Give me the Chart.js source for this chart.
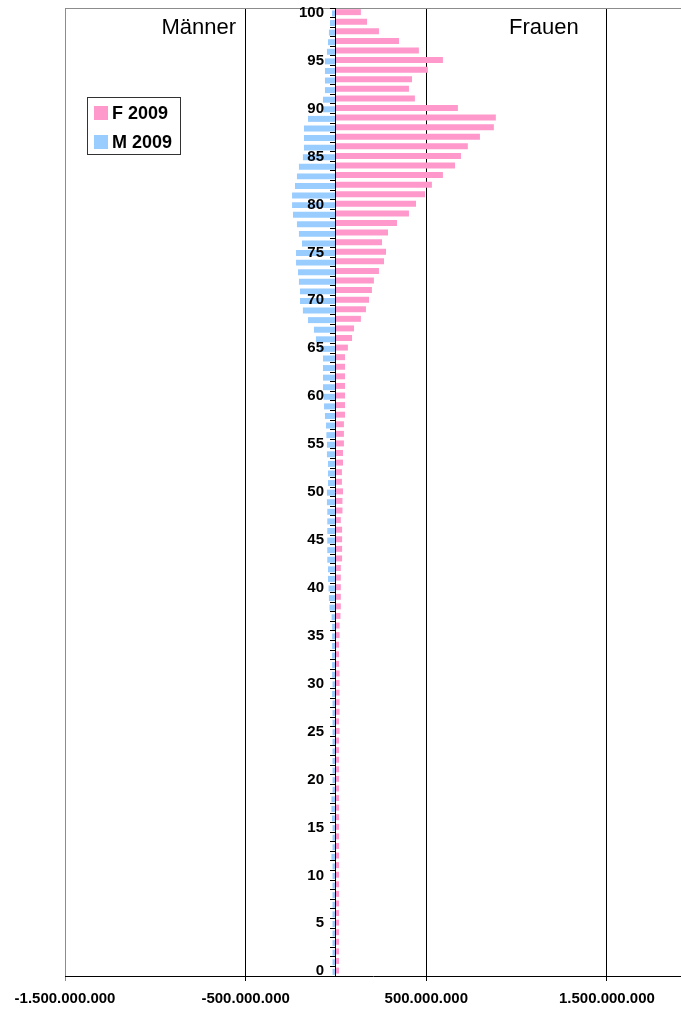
<!DOCTYPE html>
<html>
<head>
<meta charset="utf-8">
<title>Bevölkerung 2009</title>
<script src="https://cdn.jsdelivr.net/npm/chart.js@4.4.1/dist/chart.umd.min.js"></script>
<style>
  html, body { margin: 0; padding: 0; background: #ffffff; }
  #wrap { position: relative; width: 681px; height: 1010px; }
</style>
</head>
<body>
<div id="wrap"><canvas id="pyramid" width="681" height="1010"></canvas></div>
<script>
// Age classes (bottom to top of the pyramid)
const ages = [
  0, 1, 2, 3, 4, 5, 6, 7, 8, 9,
  10, 11, 12, 13, 14, 15, 16, 17, 18, 19,
  20, 21, 22, 23, 24, 25, 26, 27, 28, 29,
  30, 31, 32, 33, 34, 35, 36, 37, 38, 39,
  40, 41, 42, 43, 44, 45, 46, 47, 48, 49,
  50, 51, 52, 53, 54, 55, 56, 57, 58, 59,
  60, 61, 62, 63, 64, 65, 66, 67, 68, 69,
  70, 71, 72, 73, 74, 75, 76, 77, 78, 79,
  80, 81, 82, 83, 84, 85, 86, 87, 88, 89,
  90, 91, 92, 93, 94, 95, 96, 97, 98, 99,
  100
];

// Frauen 2009, one value per age class
const female2009 = [
  17000000, 17000000, 17000000, 17000000, 17000000, 17000000, 17000000, 17000000, 17000000, 17000000,
  17000000, 17000000, 17000000, 17000000, 17000000, 17000000, 17000000, 17000000, 17000000, 17000000,
  17000000, 17000000, 17000000, 17000000, 17000000, 20000000, 17000000, 20000000, 20000000, 20000000,
  20000000, 20000000, 17000000, 17000000, 17000000, 20000000, 20000000, 25000000, 27000000, 27000000,
  27000000, 27000000, 27000000, 34000000, 34000000, 34000000, 34000000, 27000000, 36000000, 36000000,
  39000000, 33000000, 33000000, 39000000, 39000000, 44000000, 44000000, 44000000, 50000000, 50000000,
  50000000, 50000000, 50000000, 50000000, 50000000, 66000000, 89000000, 100000000, 138000000, 166000000,
  183000000, 199000000, 210000000, 238000000, 266000000, 277000000, 255000000, 288000000, 338000000, 404000000,
  443000000, 493000000, 531000000, 592000000, 659000000, 692000000, 730000000, 797000000, 874000000, 885000000,
  675000000, 437000000, 404000000, 421000000, 509000000, 592000000, 459000000, 349000000, 238000000, 172000000,
  138000000
];

// Männer 2009, one value per age class (drawn to the left)
const male2009 = [
  19000000, 19000000, 19000000, 19000000, 19000000, 19000000, 19000000, 19000000, 19000000, 19000000,
  19000000, 19000000, 25000000, 19000000, 19000000, 19000000, 22000000, 25000000, 25000000, 19000000,
  19000000, 19000000, 19000000, 19000000, 19000000, 19000000, 19000000, 19000000, 19000000, 21000000,
  19000000, 21000000, 21000000, 21000000, 21000000, 21000000, 21000000, 24000000, 36000000, 39000000,
  41000000, 44000000, 44000000, 48000000, 48000000, 48000000, 48000000, 48000000, 48000000, 50000000,
  50000000, 44000000, 44000000, 44000000, 50000000, 50000000, 53000000, 55000000, 61000000, 66000000,
  69000000, 72000000, 72000000, 72000000, 72000000, 89000000, 111000000, 122000000, 155000000, 183000000,
  199000000, 199000000, 205000000, 210000000, 221000000, 221000000, 188000000, 205000000, 216000000, 238000000,
  243000000, 243000000, 227000000, 216000000, 205000000, 183000000, 177000000, 177000000, 177000000, 155000000,
  72000000, 72000000, 61000000, 61000000, 61000000, 61000000, 50000000, 44000000, 39000000, 33000000,
  22000000
];

const seriesLabels = ['F 2009', 'M 2009'];
const sideTitles = ['Männer', 'Frauen'];
const xTickValues = [-1500000000, -500000000, 500000000, 1500000000];

const FONT = "'Liberation Sans', Arial, Helvetica, sans-serif";
const PINK = '#FF99CC';
const BLUE = '#99CCFF';
const AGE_LABEL_GAP = 12; // distance between age labels and the centre axis

// German thousands separator: 1.500.000.000
function formatDe(v) {
  const s = Math.abs(Math.round(v)).toString().replace(/\B(?=(\d{3})+(?!\d))/g, '.');
  return (v < 0 ? '-' : '') + s;
}

// Grey frame line on top of the plot area
const framePlugin = {
  id: 'frame',
  beforeDatasetsDraw(chart) {
    const { ctx, chartArea: a } = chart;
    ctx.save();
    ctx.strokeStyle = '#8c8c8c';
    ctx.lineWidth = 1;
    ctx.beginPath();
    ctx.moveTo(a.left, Math.round(a.top) + 0.5);
    ctx.lineTo(a.right, Math.round(a.top) + 0.5);
    ctx.stroke();
    ctx.restore();
  }
};

// Move the age labels of the centred axis to the left of its tick marks
const ageLabelShift = {
  id: 'ageLabelShift',
  beforeDraw(chart) {
    const y = chart.scales.y;
    const items = y.getLabelItems(chart.chartArea);
    if (items._shifted) return;
    items.forEach(it => {
      it.options.translation[0] -= AGE_LABEL_GAP;
      it.options.textAlign = 'right';
    });
    items._shifted = true;
  }
};

// "Männer" / "Frauen" headings
const sideTitlePlugin = {
  id: 'sideTitles',
  afterDraw(chart) {
    const { ctx } = chart;
    ctx.save();
    ctx.fillStyle = '#000';
    ctx.font = '22px ' + FONT;
    ctx.textBaseline = 'middle';
    ctx.textAlign = 'right';
    ctx.fillText(sideTitles[0], 236, 28);
    ctx.textAlign = 'left';
    ctx.fillText(sideTitles[1], 509, 28);
    ctx.restore();
  }
};

// Boxed legend inside the plot area
const legendBoxPlugin = {
  id: 'legendBox',
  afterDraw(chart) {
    const { ctx } = chart;
    const ds = chart.data.datasets;
    ctx.save();
    ctx.fillStyle = '#ffffff';
    ctx.fillRect(88, 98, 92, 56);
    ctx.strokeStyle = '#333333';
    ctx.lineWidth = 1;
    ctx.strokeRect(87.5, 97.5, 93, 57);
    ctx.font = 'bold 18px ' + FONT;
    ctx.textBaseline = 'middle';
    ctx.textAlign = 'left';
    ds.forEach((d, i) => {
      const cy = 113 + i * 29;
      ctx.fillStyle = d.backgroundColor;
      ctx.fillRect(94, cy - 7, 14, 14);
      ctx.fillStyle = '#000';
      ctx.fillText(d.label, 112, cy + 1);
    });
    ctx.restore();
  }
};

new Chart(document.getElementById('pyramid'), {
  type: 'bar',
  data: {
    labels: ages,
    datasets: [
      { label: seriesLabels[0], data: female2009, backgroundColor: PINK },
      { label: seriesLabels[1], data: male2009.map(v => -v), backgroundColor: BLUE }
    ]
  },
  options: {
    indexAxis: 'y',
    responsive: false,
    animation: false,
    devicePixelRatio: 1,
    layout: { padding: { top: 8, left: 65, right: 0, bottom: 0 } },
    datasets: {
      bar: { categoryPercentage: 0.271, barPercentage: 4.6, borderWidth: 0 }
    },
    plugins: {
      legend: { display: false },
      tooltip: { enabled: false }
    },
    scales: {
      x: {
        type: 'linear',
        min: -1500000000,
        max: 1910000000,
        afterBuildTicks(scale) {
          scale.ticks = xTickValues.map(v => ({ value: v }));
        },
        afterFit(scale) { scale.height = 34; },
        grid: {
          color: c => (c.tick && c.tick.value === xTickValues[0]) ? '#8c8c8c' : '#000000',
          lineWidth: 1,
          tickLength: 5,
          drawTicks: true
        },
        border: { color: '#000000', width: 1 },
        ticks: {
          autoSkip: false,
          maxRotation: 0,
          padding: 9,
          color: '#000000',
          font: { family: FONT, size: 15, weight: 'bold' },
          callback: v => formatDe(v)
        }
      },
      y: {
        type: 'category',
        reverse: true,
        position: { x: 0 },
        afterFit(scale) {
          scale.paddingTop = 0;
          scale.paddingBottom = 0;
        },
        grid: {
          drawOnChartArea: false,
          drawTicks: true,
          tickLength: 5,
          color: '#000000',
          offset: true,
          z: 1
        },
        border: { color: '#000000', width: 1, z: 1 },
        ticks: {
          autoSkip: false,
          padding: 7,
          z: 1,
          color: '#000000',
          font: { family: FONT, size: 15, weight: 'bold' },
          callback: v => (ages[v] % 5 === 0 ? String(ages[v]) : '')
        }
      }
    }
  },
  plugins: [framePlugin, ageLabelShift, sideTitlePlugin, legendBoxPlugin]
});
</script>
</body>
</html>
